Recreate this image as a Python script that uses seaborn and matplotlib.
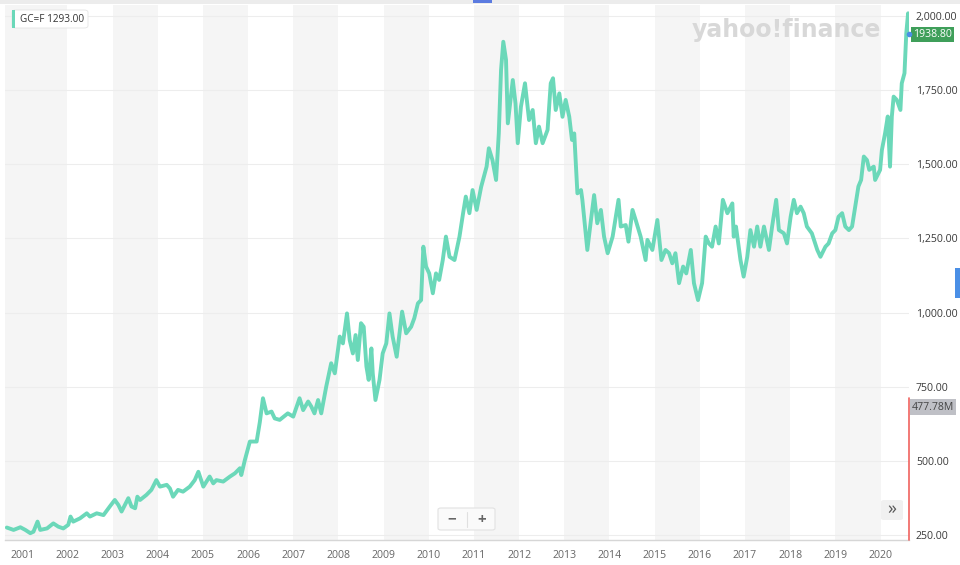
import numpy as np
import pandas as pd
import seaborn as sns
import matplotlib.pyplot as plt
from matplotlib.patches import Rectangle, FancyBboxPatch

# GC=F gold futures (decimal year, USD)
years = [
    2000.66, 2000.81, 2000.96, 2001.07, 2001.18, 2001.25, 2001.34, 2001.40, 2001.55, 2001.69,
    2001.80, 2001.91, 2002.02, 2002.07, 2002.13, 2002.28, 2002.43, 2002.50, 2002.65, 2002.80,
    2002.94, 2003.05, 2003.13, 2003.20, 2003.35, 2003.42, 2003.50, 2003.55, 2003.61, 2003.75,
    2003.86, 2003.97, 2004.05, 2004.20, 2004.27, 2004.34, 2004.45, 2004.56, 2004.71, 2004.82,
    2004.90, 2005.01, 2005.15, 2005.23, 2005.30, 2005.45, 2005.60, 2005.71, 2005.82, 2005.85,
    2005.93, 2006.04, 2006.19, 2006.26, 2006.33, 2006.41, 2006.52, 2006.59, 2006.70, 2006.88,
    2007.00, 2007.14, 2007.22, 2007.33, 2007.40, 2007.47, 2007.55, 2007.62, 2007.73, 2007.84,
    2007.92, 2008.03, 2008.10, 2008.19, 2008.25, 2008.32, 2008.38, 2008.43, 2008.50, 2008.56,
    2008.62, 2008.67, 2008.73, 2008.76, 2008.82, 2008.91, 2008.98, 2009.06, 2009.13, 2009.20,
    2009.29, 2009.41, 2009.50, 2009.61, 2009.68, 2009.76, 2009.83, 2009.88, 2009.94, 2010.01,
    2010.09, 2010.16, 2010.23, 2010.31, 2010.38, 2010.46, 2010.57, 2010.68, 2010.76, 2010.82,
    2010.90, 2010.97, 2011.06, 2011.16, 2011.28, 2011.33, 2011.41, 2011.49, 2011.55, 2011.60,
    2011.65, 2011.71, 2011.75, 2011.80, 2011.86, 2011.92, 2011.97, 2012.04, 2012.13, 2012.22,
    2012.30, 2012.37, 2012.44, 2012.52, 2012.63, 2012.70, 2012.75, 2012.81, 2012.89, 2012.96,
    2013.03, 2013.11, 2013.17, 2013.22, 2013.29, 2013.37, 2013.40, 2013.51, 2013.59, 2013.66,
    2013.73, 2013.81, 2013.88, 2013.96, 2014.07, 2014.14, 2014.20, 2014.25, 2014.36, 2014.42,
    2014.51, 2014.58, 2014.69, 2014.80, 2014.84, 2014.95, 2015.06, 2015.15, 2015.24, 2015.32,
    2015.39, 2015.46, 2015.54, 2015.63, 2015.70, 2015.80, 2015.87, 2015.96, 2016.05, 2016.13,
    2016.20, 2016.27, 2016.35, 2016.42, 2016.51, 2016.61, 2016.72, 2016.75, 2016.80, 2016.90,
    2016.97, 2017.05, 2017.12, 2017.20, 2017.27, 2017.34, 2017.42, 2017.53, 2017.60, 2017.69,
    2017.75, 2017.86, 2017.93, 2018.01, 2018.08, 2018.15, 2018.23, 2018.30, 2018.37, 2018.48,
    2018.60, 2018.67, 2018.78, 2018.85, 2018.93, 2019.00, 2019.07, 2019.15, 2019.22, 2019.30,
    2019.37, 2019.44, 2019.51, 2019.57, 2019.63, 2019.70, 2019.75, 2019.85, 2019.88, 2019.99,
    2020.03, 2020.10, 2020.16, 2020.21, 2020.25, 2020.29, 2020.36, 2020.44, 2020.47, 2020.53,
    2020.57, 2020.61, 2020.63,
]
prices = [
    275, 267, 276, 267, 256, 261, 295, 267, 272, 289,
    278, 272, 284, 312, 295, 306, 323, 312, 323, 317,
    346, 368, 351, 329, 374, 346, 340, 379, 368, 385,
    402, 435, 413, 419, 407, 379, 402, 396, 413, 435,
    463, 413, 447, 424, 435, 430, 447, 458, 475, 452,
    503, 565, 565, 630, 711, 660, 666, 643, 638, 660,
    649, 711, 671, 700, 683, 660, 705, 660, 750, 829,
    795, 919, 896, 997, 907, 862, 924, 840, 964, 952,
    818, 773, 879, 795, 705, 773, 862, 896, 997, 919,
    851, 1003, 930, 952, 981, 1031, 1042, 1222, 1155, 1132,
    1065, 1132, 1110, 1177, 1256, 1188, 1177, 1256, 1335, 1391,
    1335, 1413, 1346, 1424, 1492, 1554, 1514, 1447, 1604, 1818,
    1913, 1852, 1638, 1705, 1784, 1705, 1571, 1694, 1773, 1649,
    1683, 1571, 1627, 1571, 1616, 1773, 1790, 1683, 1739, 1660,
    1717, 1660, 1582, 1604, 1402, 1413, 1380, 1211, 1312, 1396,
    1301, 1346, 1256, 1200, 1256, 1323, 1380, 1290, 1295, 1239,
    1346, 1312, 1256, 1177, 1245, 1211, 1312, 1177, 1211, 1200,
    1166, 1200, 1099, 1155, 1132, 1211, 1099, 1042, 1099, 1256,
    1233, 1222, 1290, 1233, 1380, 1335, 1368, 1256, 1290, 1177,
    1121, 1188, 1278, 1222, 1290, 1222, 1290, 1211, 1290, 1380,
    1278, 1267, 1233, 1323, 1380, 1335, 1357, 1335, 1290, 1267,
    1211, 1188, 1222, 1233, 1267, 1278, 1323, 1335, 1290, 1278,
    1290, 1357, 1425, 1447, 1526, 1514, 1481, 1492, 1447, 1481,
    1548, 1604, 1661, 1492, 1661, 1728, 1717, 1683, 1773, 1807,
    1942, 2009, 1939,
]
last_price = 1938.80
header_label = "GC=F 1293.00"
volume_label = "477.78M"
y_ticks = [250, 500, 750, 1000, 1250, 1500, 1750, 2000]
x_ticks = list(range(2001, 2021))
x_labels = [str(y) for y in x_ticks]
shaded_years = [2000, 2001, 2003, 2005, 2007, 2009, 2011, 2013, 2015, 2017, 2019]

df = pd.DataFrame({"year": years, "price": prices})

W, H = 960, 565
def fx(px):
    return px / W
def fy(py):
    return 1 - py / H

sns.set_style("white")
plt.rcParams["font.family"] = ["Open Sans", "DejaVu Sans"]

fig = plt.figure(figsize=(9.6, 5.65), dpi=100)
ax = fig.add_axes([fx(5), fy(540), fx(904), 535 / H])

x0, x1 = 2000.62, 2020.63
ax.set_xlim(x0, x1)
ax.set_ylim(233, 2037)

# alternating year bands
for yr in shaded_years:
    ax.axvspan(max(yr, x0), min(yr + 1, x1), color="#f5f5f5", lw=0, zorder=0)
for v in y_ticks:
    ax.axhline(v, color="#ededed", lw=0.8, zorder=1)

sns.lineplot(data=df, x="year", y="price", ax=ax, color="#6bd8b9", linewidth=2.8,
             zorder=3)

ax.set_xlabel("")
ax.set_ylabel("")
ax.set_xticks(x_ticks, x_labels)
ax.set_yticks(y_ticks, [f"{v:,.2f}" for v in y_ticks])
ax.yaxis.tick_right()
ax.tick_params(axis="y", length=0, pad=5, labelsize=7.6, labelcolor="#3a3a3a")
ax.tick_params(axis="x", length=4, width=0.8, color="#cccccc", pad=3,
               labelsize=7.6, labelcolor="#666666")
for s in ["top", "left", "right"]:
    ax.spines[s].set_visible(False)
ax.spines["bottom"].set_color("#d6d6d6")
ax.spines["bottom"].set_linewidth(1.0)

# volume marker line on the right edge
ax.plot([1, 1], [0, 0.266], transform=ax.transAxes, color="#f0625f", lw=1.2,
        zorder=5, clip_on=False)

# top border strip
fig.patches.append(Rectangle((0, fy(4)), 1, 4 / H, transform=fig.transFigure,
                             color="#ececec", lw=0))
fig.patches.append(Rectangle((fx(473), fy(3)), 19 / W, 3 / H, transform=fig.transFigure,
                             color="#5b7be0", lw=0))
fig.patches.append(Rectangle((fx(955), fy(298)), 5 / W, 30 / H, transform=fig.transFigure,
                             color="#4a8fe6", lw=0))

# watermark
fig.text(fx(786), fy(30), "yahoo!finance", ha="center", va="center",
         fontsize=17, fontweight="bold", color="#d8d8d8", family="DejaVu Sans", zorder=2)

# header label box
fig.patches.append(FancyBboxPatch((fx(12), fy(28)), 76 / W, 18 / H, transform=fig.transFigure,
                                  boxstyle="round,pad=0,rounding_size=0.004",
                                  fc="white", ec="#e4e4e4", lw=0.6, zorder=6))
fig.patches.append(Rectangle((fx(12), fy(28)), 3 / W, 18 / H, transform=fig.transFigure,
                             color="#6bd8b9", lw=0, zorder=7))
fig.text(fx(20), fy(19), header_label, ha="left", va="center", fontsize=7.2,
         color="#333333", zorder=8)

# last price label
ax.text(1.004, last_price, f"{last_price:.2f}", transform=ax.get_yaxis_transform(),
        ha="left", va="center", fontsize=7.6, color="white", zorder=9, clip_on=False,
        bbox=dict(boxstyle="square,pad=0.2", fc="#3f9f5a", ec="none"))
ax.plot([1], [last_price], marker="o", ms=3, color="#4a8fe6",
        transform=ax.get_yaxis_transform(), clip_on=False, zorder=9)

# volume label
fig.text(fx(912), fy(407), volume_label, ha="left", va="center", fontsize=7.6,
         color="#444444", zorder=9,
         bbox=dict(boxstyle="square,pad=0.2", fc="#bfc0c6", ec="none"))

# zoom buttons
fig.patches.append(FancyBboxPatch((fx(438), fy(530)), 57 / W, 22 / H, transform=fig.transFigure,
                                  boxstyle="round,pad=0,rounding_size=0.003",
                                  fc="#fafafa", ec="#e2e2e2", lw=0.8, zorder=6))
fig.lines.append(plt.Line2D([fx(467), fx(467)], [fy(512), fy(527)], transform=fig.transFigure,
                            color="#e0e0e0", lw=0.8, zorder=7))
fig.text(fx(452), fy(519.5), "\u2212", ha="center", va="center", fontsize=11,
         fontweight="bold", color="#666666", zorder=8)
fig.text(fx(482), fy(519.5), "+", ha="center", va="center", fontsize=11,
         fontweight="bold", color="#666666", zorder=8)

# scroll button
fig.patches.append(FancyBboxPatch((fx(881), fy(520)), 22 / W, 20 / H, transform=fig.transFigure,
                                  boxstyle="round,pad=0,rounding_size=0.003",
                                  fc="#f0f0f0", ec="none", zorder=6))
fig.text(fx(892), fy(509), "\u00bb", ha="center", va="center", fontsize=13,
         color="#555555", zorder=8)

fig.savefig("out.png", dpi=100)
